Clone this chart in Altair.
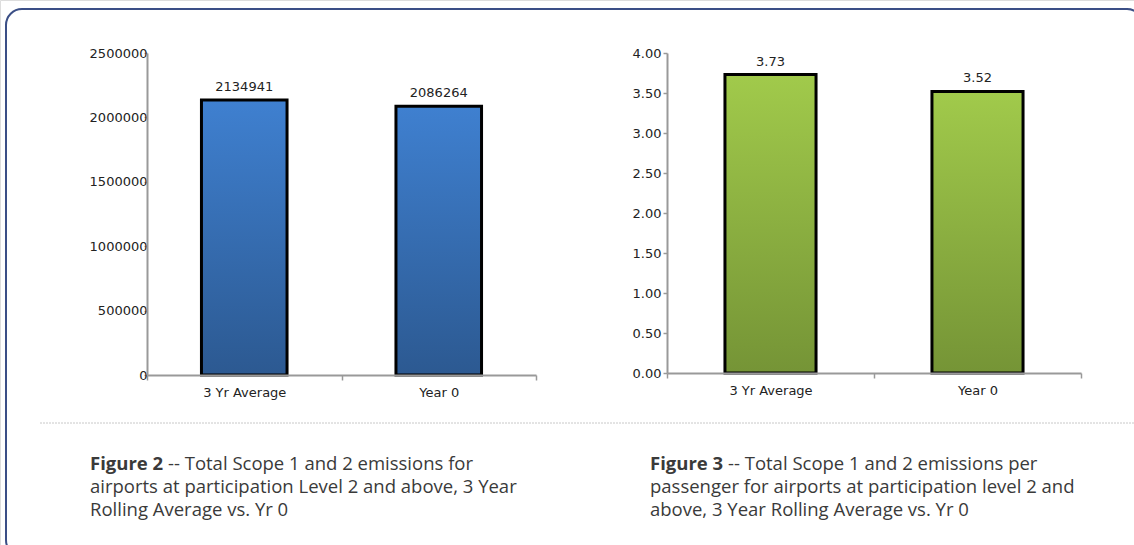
import altair as alt
import pandas as pd

# ---- data ----
categories = ["3 Yr Average", "Year 0"]
emissions = [2134941, 2086264]
per_passenger = [3.73, 3.52]
emission_ticks = [0, 500000, 1000000, 1500000, 2000000, 2500000]
passenger_ticks = [0.0, 0.5, 1.0, 1.5, 2.0, 2.5, 3.0, 3.5, 4.0]

cap2_bold = "Figure 2"
cap2_first = "-- Total Scope 1 and 2 emissions for"
cap2_rest = ["airports at participation Level 2 and above, 3 Year", "Rolling Average vs. Yr 0"]
cap3_bold = "Figure 3"
cap3_first = "-- Total Scope 1 and 2 emissions per"
cap3_rest = ["passenger for airports at participation level 2 and", "above, 3 Year Rolling Average vs. Yr 0"]

df_em = pd.DataFrame({"cat": categories, "val": emissions})
df_px = pd.DataFrame({"cat": categories, "val": per_passenger})

W, H = 1134, 545
AX_FONT = "DejaVu Sans"
CAP_FONT = "Open Sans"
AXCOL = "#999999"

blue = alt.Gradient(gradient="linear",
                    stops=[alt.GradientStop(color="#3f80d0", offset=0),
                           alt.GradientStop(color="#2c5991", offset=1)],
                    x1=0, x2=0, y1=0, y2=1)
green = alt.Gradient(gradient="linear",
                     stops=[alt.GradientStop(color="#a1ca4b", offset=0),
                            alt.GradientStop(color="#759436", offset=1)],
                     x1=0, x2=0, y1=0, y2=1)


def panel(df, xr, yr, ymax, ticks, fmt, label_fmt, fill, ytick, ylabpad):
    xs = alt.Scale(range=xr, paddingInner=0, paddingOuter=0)
    ys = alt.Scale(domain=[0, ymax], range=yr, nice=False)
    xaxis = alt.Axis(orient="bottom", offset=-(H - yr[0]), title=None, labelAngle=0,
                     tickBand="extent", tickSize=5, tickColor=AXCOL, tickWidth=1.5,
                     domainColor=AXCOL, domainWidth=2, labelFont=AX_FONT, labelFontSize=13,
                     labelColor="#222222", labelPadding=6, zindex=2)
    yaxis = alt.Axis(orient="left", offset=-xr[0], title=None, values=ticks, format=fmt,
                     grid=False, tickSize=ytick, tickColor=AXCOL, tickWidth=1.5,
                     domainColor=AXCOL, domainWidth=2, labelFont=AX_FONT, labelFontSize=13,
                     labelColor="#222222", labelPadding=ylabpad, zindex=2)
    bars = alt.Chart(df).mark_bar(width=alt.RelativeBandSize(0.44), fill=fill,
                                  stroke="#000000", strokeWidth=3).encode(
        x=alt.X("cat:N", scale=xs, axis=xaxis, sort=categories),
        y=alt.Y("val:Q", scale=ys, axis=yaxis),
    )
    labels = alt.Chart(df).mark_text(font=AX_FONT, fontSize=13, color="#222222",
                                     baseline="alphabetic", dy=-9).encode(
        x=alt.X("cat:N", scale=xs, sort=categories),
        y=alt.Y("val:Q", scale=ys),
        text=alt.Text("val:Q", format=label_fmt),
    )
    return alt.layer(bars, labels)


left = panel(df_em, [147, 536], [375, 53], 2500000, emission_ticks, "d", "d", blue, 3, -3)
right = panel(df_px, [667, 1081], [373, 53], 4.0, passenger_ticks, ".2f", ".2f", green, 4, 2)

one = pd.DataFrame({"k": [0]})

frame = alt.Chart(one).mark_rect(cornerRadius=16, fill="#ffffff", fillOpacity=0,
                                 stroke="#3b4f86", strokeWidth=2).encode(
    x=alt.value(6), x2=alt.value(1143), y=alt.value(9), y2=alt.value(556))

divider = alt.Chart(one).mark_rule(color="#c8c8c8", strokeWidth=1, strokeDash=[2, 1]).encode(
    x=alt.value(40), x2=alt.value(1134), y=alt.value(423))


def caption(bold, first, rest, x0, x1):
    d_b = pd.DataFrame({"t": [bold]})
    d_f = pd.DataFrame({"t": [first]})
    d_r = pd.DataFrame({"t": [rest]})
    common = dict(font=CAP_FONT, fontSize=18.5, color="#3a3a3a", align="left", baseline="alphabetic")
    b = alt.Chart(d_b).mark_text(fontWeight="bold", **common).encode(
        x=alt.value(x0), y=alt.value(470), text="t:N")
    f = alt.Chart(d_f).mark_text(**common).encode(
        x=alt.value(x1), y=alt.value(470), text="t:N")
    r = alt.Chart(d_r).mark_text(lineHeight=23, **common).encode(
        x=alt.value(x0), y=alt.value(493), text="t")
    return [b, f, r]


caps = caption(cap2_bold, cap2_first, cap2_rest, 90, 168) + \
    caption(cap3_bold, cap3_first, cap3_rest, 650, 728)

chart = alt.layer(frame, divider, left, right, *caps).resolve_scale(
    x="independent", y="independent").resolve_axis(x="independent", y="independent").properties(
    width=W, height=H, autosize=alt.AutoSizeParams(type="none"), padding=0
).configure_view(strokeWidth=0).configure(background="#ffffff")

chart.save("out.html", embed_options={"renderer": "svg", "actions": False})
